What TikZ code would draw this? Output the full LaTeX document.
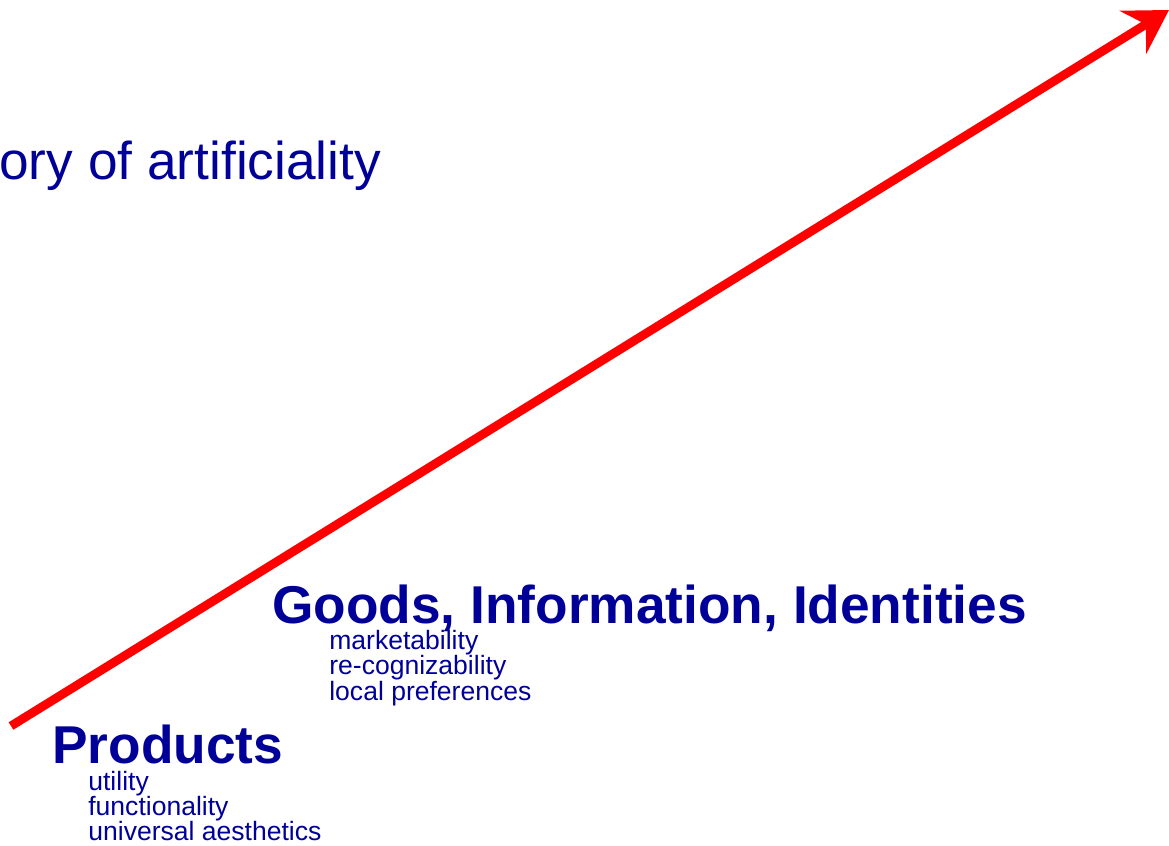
\documentclass[tikz,border=0pt]{standalone}
\usepackage{fontspec}
\setmainfont{Liberation Sans}
\usetikzlibrary{arrows.meta}
\definecolor{darkblue}{RGB}{0,0,153}
\tikzset{
  title/.style={anchor=base west, inner sep=0pt, text=darkblue, font=\fontsize{30.3}{30}\selectfont\bfseries},
  note/.style={anchor=base west, inner sep=0pt, text=darkblue, font=\fontsize{15.1}{15}\selectfont},
  trend/.style={draw=red, line width=5pt, -{Stealth[length=24pt, width=28.5pt, inset=8.5pt]}}
}
\begin{document}
\begin{tikzpicture}[x=0.2mm,y=-0.2mm]
  \useasboundingbox (0,0) rectangle (1169,846);

  % the trend arrow
  \coordinate (start) at (11,726);
  \coordinate (tip) at (1169,10);
  \draw [trend] (start) -- (tip);

  % heading, cut at the left edge
  \node [note, font=\fontsize{30.3}{30}\selectfont] (heading) at (-1,180) {ory of artificiality};

  % first stage
  \node [title] (products) at (52,763) {Products};
  \node [note] (utility) at (88,790) {utility};
  \node [note] (functionality) at (88,815) {functionality};
  \node [note] (aesthetics) at (88,840) {universal aesthetics};

  % second stage
  \node [title] (goods) at (272,623) {Goods, Information, Identities};
  \node [note] (marketability) at (329,649) {marketability};
  \node [note] (recognizability) at (329,674.5) {re-cognizability};
  \node [note] (preferences) at (329,700) {local preferences};
\end{tikzpicture}
\end{document}
